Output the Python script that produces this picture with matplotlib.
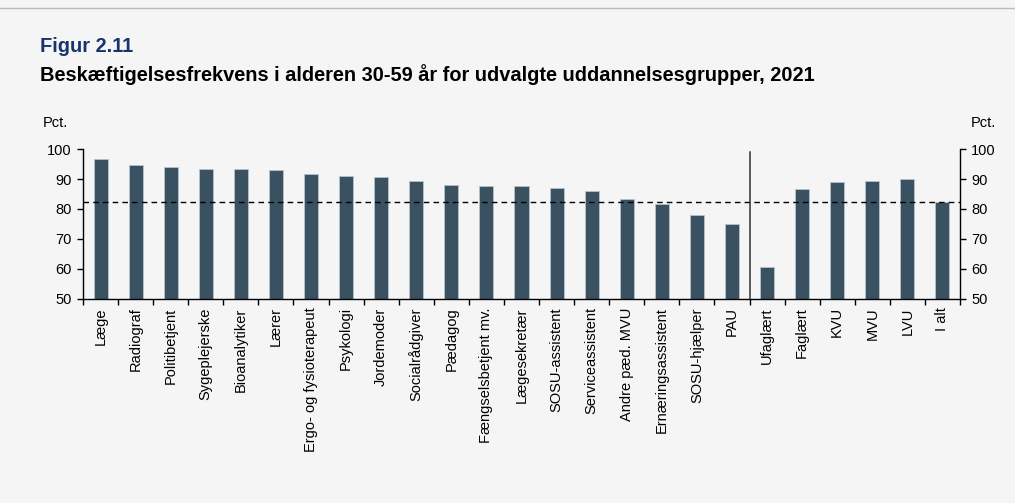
import matplotlib
matplotlib.use("Agg")
import matplotlib.pyplot as plt
import numpy as np

plt.rcParams['font.family'] = ['Liberation Sans', 'DejaVu Sans']

categories = ["Læge", "Radiograf", "Politibetjent", "Sygeplejerske", "Bioanalytiker",
              "Lærer", "Ergo- og fysioterapeut", "Psykologi", "Jordemoder", "Socialrådgiver",
              "Pædagog", "Fængselsbetjent mv.", "Lægesekretær", "SOSU-assistent",
              "Serviceassistent", "Andre pæd. MVU", "Ernæringsassistent", "SOSU-hjælper", "PAU",
              "Ufaglært", "Faglært", "KVU", "MVU", "LVU", "I alt"]
values = [96.7, 94.8, 94.1, 93.4, 93.4, 92.9, 91.6, 91.1, 90.7, 89.4,
          88.1, 87.8, 87.7, 87.0, 86.1, 83.4, 81.7, 77.9, 75.0,
          60.6, 86.6, 89.0, 89.3, 89.9, 82.5]
reference_level = 82.2
yticks = [50, 60, 70, 80, 90, 100]

bg = "#F5F5F5"
bar_color = "#3A5162"
fs = 10.5

fig = plt.figure(figsize=(10.15, 5.03), dpi=100, facecolor=bg)
ax = fig.add_axes([83/1015, 1 - 299/503, (960-83)/1015, (299-149)/503])
ax.set_facecolor(bg)

x = np.arange(len(categories))
ax.bar(x, [v - 50 for v in values], bottom=50, width=0.4, color=bar_color,
       edgecolor="#B8C2CA", linewidth=0.6, zorder=2)
ax.set_xlim(-0.5, len(categories) - 0.5)
ax.set_ylim(50, 100)
ax.axhline(reference_level, color="black", linestyle=(0, (4, 3)), linewidth=1.0, zorder=3)
ax.plot([18.5, 18.5], [99, 50], color="#333333", linewidth=1.1, zorder=3)

ax.spines["top"].set_visible(False)
for s in ["left", "right", "bottom"]:
    ax.spines[s].set_linewidth(1.0)
    ax.spines[s].set_color("black")

ax.set_yticks(yticks)
ax.set_yticklabels([str(t) for t in yticks], fontsize=fs)
ax.tick_params(axis="y", direction="out", length=4, width=1, left=True, right=True,
               labelleft=True, labelright=True, pad=4)
ax.set_xticks(np.arange(len(categories) + 1) - 0.5)
ax.set_xticklabels([])
ax.set_xticks(x, minor=True)
ax.set_xticklabels(categories, minor=True, rotation=90, fontsize=fs, va="top", ha="center")
ax.tick_params(axis="x", which="major", direction="out", length=4, width=1)
ax.tick_params(axis="x", which="minor", length=0, pad=6)

fig.text(43/1015, 1 - 123/503, "Pct.", fontsize=fs, va="center", ha="left")
fig.text(996/1015, 1 - 123/503, "Pct.", fontsize=fs, va="center", ha="right")

fig.text(40/1015, 1 - 47/503, "Figur 2.11", fontsize=14.4, fontweight="bold",
         color="#17346F", va="center", ha="left")
fig.text(40/1015, 1 - 75/503, "Beskæftigelsesfrekvens i alderen 30-59 år for udvalgte uddannelsesgrupper, 2021",
         fontsize=14.4, fontweight="bold", color="black", va="center", ha="left")

fig.add_artist(plt.Line2D([0, 1], [1 - 8/503, 1 - 8/503], color="#BBBBBB", linewidth=1,
                          transform=fig.transFigure))

fig.savefig("out.png", dpi=100, facecolor=bg)
